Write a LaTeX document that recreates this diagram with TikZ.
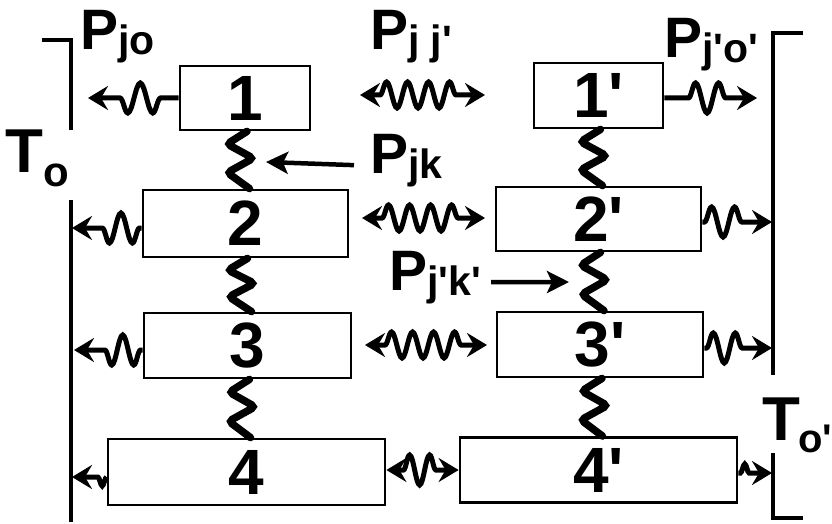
\documentclass[tikz,border=0pt]{standalone}
\usepackage{fontspec}
\setmainfont{Liberation Sans}[Ligatures=TeXOff]
\usetikzlibrary{arrows.meta,decorations.pathmorphing,calc}

\newcommand{\lsub}[1]{\raisebox{-5pt}{\fontsize{41}{41}\selectfont #1}}

\tikzset{
    blk/.style={draw, line width=2.8pt, inner sep=0pt, font=\bfseries\fontsize{64}{64}\selectfont},
    lbl/.style={anchor=base west, inner sep=0pt, font=\bfseries\fontsize{57}{57}\selectfont},
    wall/.style={line width=3.5pt},
    spring/.style={line width=7.5pt, rounded corners=4pt, line cap=round},
    wig/.style={line width=5pt, decorate, decoration={snake, amplitude=15pt, segment length=#1}},
    ptr/.style={line width=4.5pt, -{Stealth[length=22pt,width=22pt,inset=5pt]}}
}

\begin{document}
\begin{tikzpicture}[x=1pt, y=-1pt, >={Stealth[length=20pt,width=24pt,inset=7pt]}]
        \useasboundingbox (0,0) rectangle (832,524);

        % Define the blocks
        \node[blk, minimum width=130pt, minimum height=64pt] (b1) at (245,98) {1};
        \node[blk, minimum width=205pt, minimum height=67pt] (b2) at (245.5,223.5) {2};
        \node[blk, minimum width=207pt, minimum height=65pt] (b3) at (247.5,345.5) {3};
        \node[blk, minimum width=277pt, minimum height=66pt] (b4) at (246.5,472) {4};
        \node[blk, minimum width=129pt, minimum height=65pt] (b1p) at (598.5,95.5) {1'};
        \node[blk, minimum width=205pt, minimum height=64pt] (b2p) at (598.5,219) {2'};
        \node[blk, minimum width=206pt, minimum height=65pt] (b3p) at (600,344.5) {3'};
        \node[blk, minimum width=277pt, minimum height=65pt] (b4p) at (598.5,470) {4'};

        % Draw the walls
        \draw[wall] (42,40) -- (71,40) -- (71,130);
        \draw[wall] (71,200) -- (71,522);
        \draw[wall] (803,33) -- (773,33) -- (773,375);
        \draw[wall] (773,453) -- (773,518) -- (803,518);

        % Add labels
        \node[lbl] (pjo) at (80,50) {P\lsub{jo}};
        \node[lbl] (pjj) at (370,50) {P\lsub{j j'}};
        \node[lbl] (pjo2) at (664,58) {P\lsub{j'o'}};
        \node[lbl] (pjk) at (370,173) {P\lsub{jk}};
        \node[lbl] (pjk2) at (389,290) {P\lsub{j'k'}};
        \node[lbl, font=\bfseries\fontsize{62}{62}\selectfont] (to) at (5,172)
            {T\raisebox{-14pt}{\fontsize{42}{42}\selectfont o}};
        \node[lbl, font=\bfseries\fontsize{62}{62}\selectfont] (to2) at (762,440)
            {T\kern-2pt\raisebox{-12pt}{\fontsize{40}{40}\selectfont o'}};

        % Define coordinates for the arrow ends
        \coordinate (wl1) at (88,98);
        \coordinate (wl2) at (72,228);
        \coordinate (wl3) at (74,350);
        \coordinate (wl4) at (72,477);
        \coordinate (wr1) at (757,98);
        \coordinate (wr2) at (772,222);
        \coordinate (wr3) at (772,348);
        \coordinate (wr4) at (772,473);
        \coordinate (ma1) at (360,95);
        \coordinate (mb1) at (485,95);
        \coordinate (ma2) at (362,218);
        \coordinate (mb2) at (485,218);
        \coordinate (ma3) at (365,345);
        \coordinate (mb3) at (487,345);
        \coordinate (sjk) at (266,162);
        \coordinate (sjk2) at (569,282);

        % Draw the springs
        \foreach \a/\b in {b1/b2,b2/b3,b3/b4,b1p/b2p,b2p/b3p,b3p/b4p} {
                \draw[spring] ($(\a.south)+(2,0)$) -- ($(\a.south)!0.22!(\b.north)+(-18,0)$)
                    -- ($(\a.south)!0.47!(\b.north)+(8,0)$) -- ($(\a.south)!0.72!(\b.north)+(-18,0)$)
                    -- ($(\b.north)+(4,0)$);
            }

        % Draw the heat flows to the walls
        \draw[wig=25pt, decoration={pre length=18pt, post length=26pt}, ->] (b1.west) -- (wl1);
        \draw[wig=23pt, decoration={pre length=2pt, post length=22pt}, ->] (b2.west |- wl2) -- (wl2);
        \draw[wig=22pt, decoration={pre length=2pt, post length=22pt}, ->] (b3.west |- wl3) -- (wl3);
        \draw[wig=14pt, decoration={pre length=0pt, post length=20pt, amplitude=9pt}, ->] (b4.west |- wl4) -- (wl4);
        \draw[wig=23pt, decoration={pre length=24pt, post length=26pt}, ->] (b1p.east |- wr1) -- (wr1);
        \draw[wig=23pt, decoration={pre length=2pt, post length=24pt}, ->] (b2p.east |- wr2) -- (wr2);
        \draw[wig=22pt, decoration={pre length=2pt, post length=24pt}, ->] (b3p.east |- wr3) -- (wr3);
        \draw[wig=14pt, decoration={pre length=2pt, post length=20pt, amplitude=9pt}, ->] (b4p.east |- wr4) -- (wr4);

        % Draw the heat flows between the columns
        \draw[wig=21pt, decoration={pre length=20pt, post length=20pt, amplitude=13pt}, <->] (ma1) -- (mb1);
        \draw[wig=21pt, decoration={pre length=20pt, post length=20pt, amplitude=13pt}, <->] (ma2) -- (mb2);
        \draw[wig=21pt, decoration={pre length=20pt, post length=20pt, amplitude=13pt}, <->] (ma3) -- (mb3);
        \draw[wig=20pt, decoration={pre length=17pt, post length=18pt}, <->] (b4.east |- b4p.west) -- (b4p.west);

        % Draw the pointers
        \draw[ptr] ([xshift=-16pt,yshift=-5pt]pjk.west) -- (sjk);
        \draw[ptr] ([xshift=10pt,yshift=-5pt]pjk2.east) -- (sjk2);
    \end{tikzpicture}
\end{document}
